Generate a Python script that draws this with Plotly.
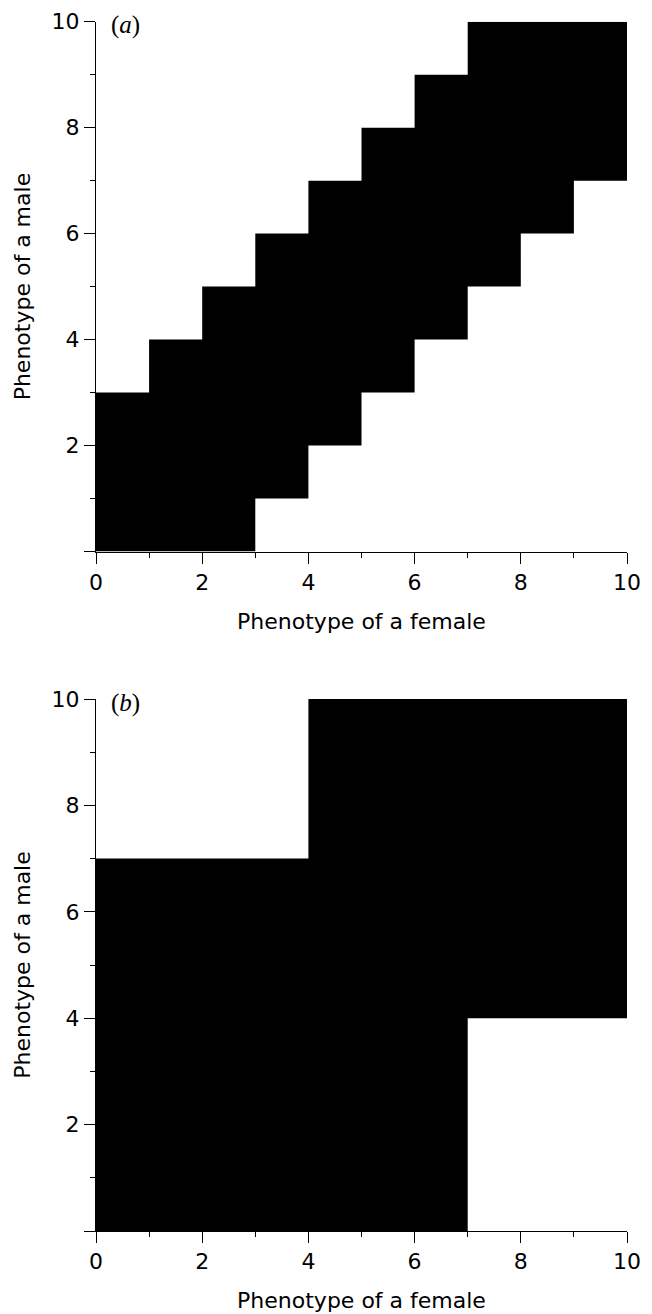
import plotly.graph_objects as go

# Panel (a): female phenotype column edges and male phenotype range of the black region
a_female_edges = [0, 1, 2, 3, 4, 5, 6, 7, 8, 9, 10]
a_male_low = [0, 0, 0, 1, 2, 3, 4, 5, 6, 7]
a_male_high = [3, 4, 5, 6, 7, 8, 9, 10, 10, 10]

# Panel (b)
b_female_edges = [0, 4, 7, 10]
b_male_low = [0, 0, 4]
b_male_high = [7, 10, 10]

x_tickvals = [0, 2, 4, 6, 8, 10]
y_tickvals = [0, 2, 4, 6, 8, 10]
y_ticktext = ["", "2", "4", "6", "8", "10"]


def step_polygon(edges, low, high):
    xs, ys = [], []
    for i in range(len(high)):
        xs += [edges[i], edges[i + 1]]
        ys += [high[i], high[i]]
    for i in reversed(range(len(low))):
        xs += [edges[i + 1], edges[i]]
        ys += [low[i], low[i]]
    xs.append(xs[0])
    ys.append(ys[0])
    return xs, ys


W, H = 652, 1314
L, R = 96, 25
fig = go.Figure()

panels = [
    ("x", "y", a_female_edges, a_male_low, a_male_high, (21.7, 551.5), "(<i>a</i>)"),
    ("x2", "y2", b_female_edges, b_male_low, b_male_high, (699.0, 1231.0), "(<i>b</i>)"),
]

tickfont = dict(family="DejaVu Sans", size=22, color="black")
titlefont = dict(family="DejaVu Sans", size=22, color="black")

for idx, (xa, ya, edges, low, high, (top, bot), lab) in enumerate(panels):
    xs, ys = step_polygon(edges, low, high)
    fig.add_trace(go.Scatter(x=xs, y=ys, xaxis=xa, yaxis=ya, mode="lines",
                             fill="toself", fillcolor="black",
                             line=dict(width=0, color="black"),
                             hoverinfo="skip", showlegend=False))
    sfx = "" if idx == 0 else "2"
    dom = [1 - bot / H, 1 - top / H]
    axis_common = dict(showline=True, linecolor="black", linewidth=1,
                       showgrid=False, zeroline=False, ticks="outside",
                       ticklen=11, tickwidth=1, tickcolor="black",
                       tickfont=tickfont, automargin=False,
                       minor=dict(ticks="outside", ticklen=5, dtick=1, tick0=0,
                                  tickcolor="black", tickwidth=1, showgrid=False))
    fig.layout["xaxis" + sfx] = dict(axis_common, range=[0, 10], tickmode="array",
                                     tickvals=x_tickvals, anchor="y" + sfx,
                                     domain=[0, 1],
                                     title=dict(text="Phenotype of a female",
                                                font=titlefont, standoff=19))
    fig.layout["yaxis" + sfx] = dict(axis_common, range=[0, 10], tickmode="array",
                                     tickvals=y_tickvals, ticktext=y_ticktext,
                                     anchor="x" + sfx, domain=dom,
                                     title=dict(text="Phenotype of a male",
                                                font=titlefont, standoff=14))
    fig.add_annotation(text=lab, xref=("x" + sfx) + " domain", yref=("y" + sfx) + " domain",
                       x=13 / (W - L - R), y=1 - 3.5 / (bot - top),
                       xanchor="left", yanchor="middle", showarrow=False,
                       font=dict(family="Liberation Serif", size=25, color="black"))

fig.update_layout(width=W, height=H, margin=dict(l=L, r=R, t=0, b=0),
                  paper_bgcolor="white", plot_bgcolor="white")

fig.write_html("out.html", config={"displayModeBar": False},
               post_script="document.body.style.margin='0';document.body.style.overflow='hidden';")
